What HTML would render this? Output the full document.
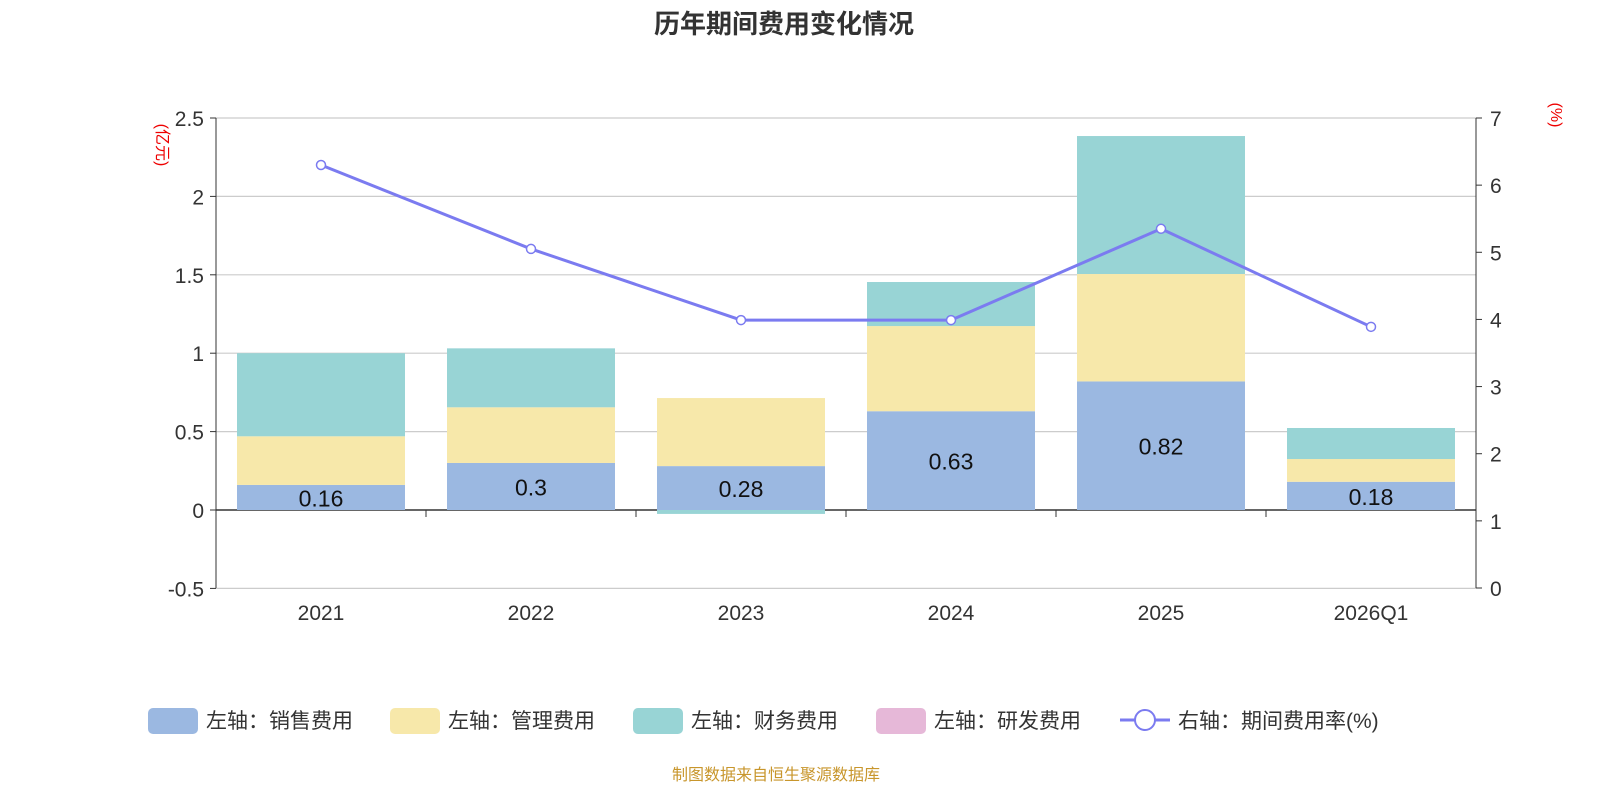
<!DOCTYPE html>
<html><head><meta charset="utf-8">
<style>
body{margin:0;background:#fff;width:1600px;height:800px;overflow:hidden;font-family:"Liberation Sans","Noto Sans CJK SC",sans-serif;}
</style></head>
<body>
<svg id="c" width="1600" height="800" xmlns="http://www.w3.org/2000/svg" font-family="Liberation Sans, Noto Sans CJK SC, sans-serif">
<text x="784" y="33" text-anchor="middle" font-size="26" font-weight="bold" fill="#333">历年期间费用变化情况</text>
<text x="157" y="145" font-size="16" fill="#e00" text-anchor="middle" transform="rotate(90 157 145)">(亿元)</text>
<text x="1551" y="115" font-size="16" fill="#e00" text-anchor="middle" transform="rotate(90 1551 115)">(%)</text>
<g id="grid"></g><g id="bars"></g><g id="axes"></g><g id="line"></g>
<g font-size="21" fill="#333">
<rect x="148" y="708" width="50" height="26" rx="5" fill="#9bb8e1"/>
<text x="206" y="728">左轴：销售费用</text>
<rect x="390" y="708" width="50" height="26" rx="5" fill="#f7e8aa"/>
<text x="448" y="728">左轴：管理费用</text>
<rect x="633" y="708" width="50" height="26" rx="5" fill="#98d4d5"/>
<text x="691" y="728">左轴：财务费用</text>
<rect x="876" y="708" width="50" height="26" rx="5" fill="#e6b8d8"/>
<text x="934" y="728">左轴：研发费用</text>
<line x1="1120" y1="720" x2="1170" y2="720" stroke="#7b7bf0" stroke-width="3"/>
<circle cx="1145" cy="720" r="10" fill="#fff" stroke="#7b7bf0" stroke-width="2"/>
<text x="1178" y="728">右轴：期间费用率(%)</text>
</g>
<text x="776" y="780" text-anchor="middle" font-size="16" fill="#c8962c">制图数据来自恒生聚源数据库</text>
</svg>
<script>
const categories=["2021","2022","2023","2024","2025","2026Q1"];
const sales=[0.16,0.3,0.28,0.63,0.82,0.18];
const admin=[0.31,0.355,0.434,0.543,0.685,0.145];
const finance=[0.53,0.376,-0.025,0.281,0.88,0.198];
const rate=[6.30,5.05,3.99,3.99,5.35,3.89];
const leftTicks=[-0.5,0,0.5,1,1.5,2,2.5];
const rightTicks=[0,1,2,3,4,5,6,7];
const NS="http://www.w3.org/2000/svg";
const X0=216,X1=1476,band=(X1-X0)/categories.length,bw=168;
const yL=v=>510-v*156.8;
const yR=v=>588-v*(470/7);
const xc=i=>X0+band*(i+0.5);
function mk(t,a,p){const e=document.createElementNS(NS,t);for(const k in a)e.setAttribute(k,a[k]);p.appendChild(e);return e;}
const grid=document.getElementById('grid'),bars=document.getElementById('bars'),axes=document.getElementById('axes'),line=document.getElementById('line');
leftTicks.forEach(v=>{
 const g=mk('line',{x1:X0,x2:X1,y1:yL(v),y2:yL(v),stroke:v===0?'#333':'#ccc','stroke-width':v===0?1.5:1.2},grid);
 
 
 const t=mk('text',{x:204,y:yL(v)+8,'text-anchor':'end','font-size':21,fill:'#333'},axes);t.textContent=v;
 
 
 mk('line',{x1:X0-6,x2:X0,y1:yL(v),y2:yL(v),stroke:'#333'},axes);
});
rightTicks.forEach(v=>{
 const t=mk('text',{x:1490,y:yR(v)+8,'font-size':21,fill:'#333'},axes);t.textContent=v;
 
 
 mk('line',{x1:X1,x2:X1+6,y1:yR(v),y2:yR(v),stroke:'#333'},axes);
});
mk('line',{x1:X0,x2:X0,y1:118,y2:588,stroke:'#333'},axes);
mk('line',{x1:X1,x2:X1,y1:118,y2:588,stroke:'#333'},axes);
for(let i=1;i<categories.length;i++)mk('line',{x1:X0+band*i,x2:X0+band*i,y1:510,y2:517,stroke:'#333'},axes);
categories.forEach((c,i)=>{
 const t=mk('text',{x:xc(i),y:620,'text-anchor':'middle','font-size':21,fill:'#333'},axes);t.textContent=c;
 
 
 let pos=0,neg=0;
 [[sales,'#9bb8e1','bar-sales'],[admin,'#f7e8aa','bar-admin'],[finance,'#98d4d5','bar-finance']].forEach(([arr,col,nm])=>{
  const v=arr[i];let y0,y1;
  if(v>=0){y0=pos;pos+=v;y1=pos;}else{y0=neg;neg+=v;y1=neg;}
  const r=mk('rect',{x:xc(i)-bw/2,y:Math.min(yL(y0),yL(y1)),width:bw,height:Math.abs(yL(y1)-yL(y0)),fill:col},bars);
  
  
 });
 const l=mk('text',{x:xc(i),y:(yL(0)+yL(sales[i]))/2+9,'text-anchor':'middle','font-size':23,fill:'#111'},bars);l.textContent=sales[i];
 
 
});
const p=mk('polyline',{points:rate.map((v,i)=>xc(i)+','+yR(v)).join(' '),fill:'none',stroke:'#7b7bf0','stroke-width':3},line);


rate.forEach((v,i)=>{
 const c=mk('circle',{cx:xc(i),cy:yR(v),r:4.5,fill:'#fff',stroke:'#7b7bf0','stroke-width':1.5},line);
 
 
});
</script>
</body></html>
